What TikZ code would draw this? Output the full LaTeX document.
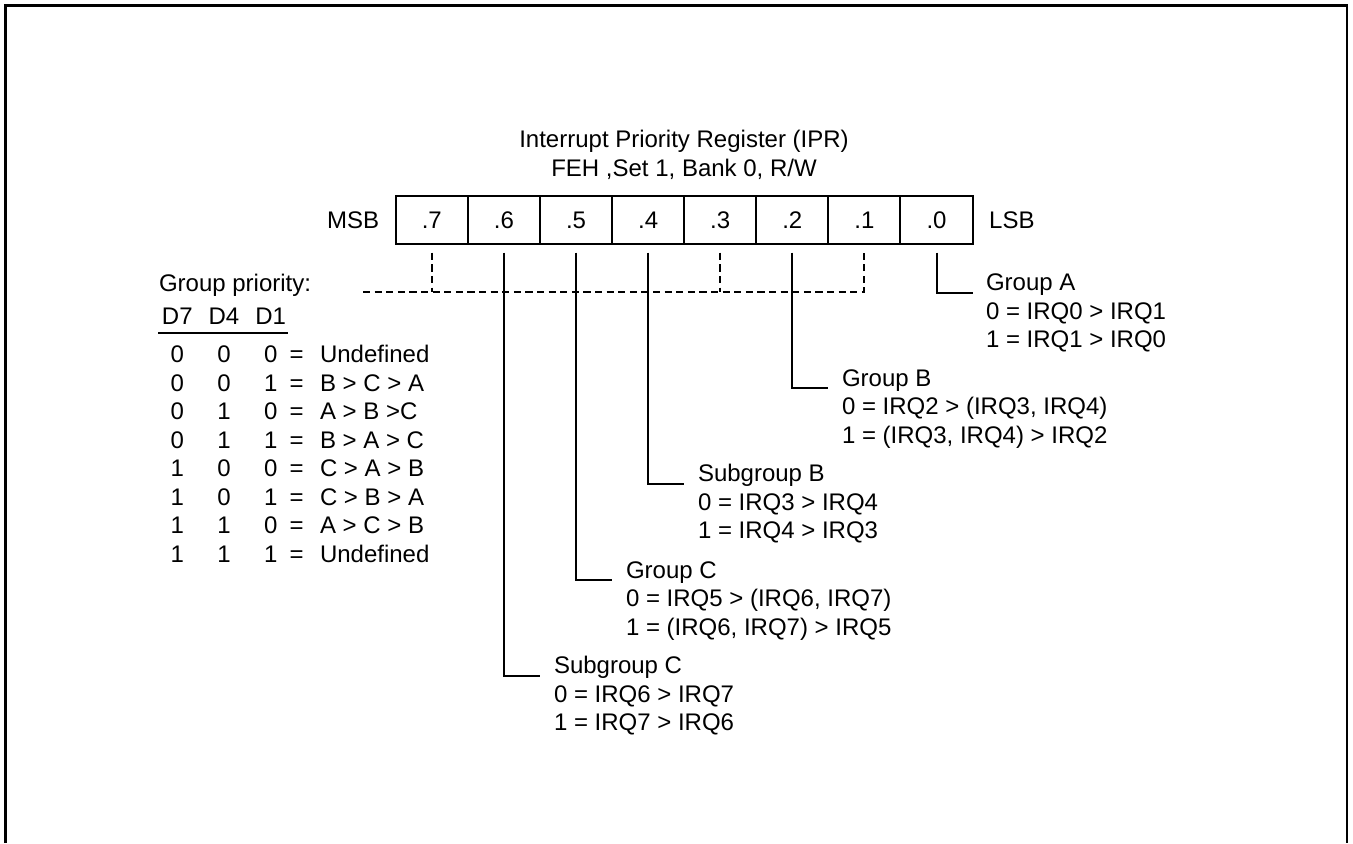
\documentclass[tikz,border=0pt]{standalone}
\usepackage{fontspec}
\setmainfont{Liberation Sans}
\usetikzlibrary{positioning}

\begin{document}
\begin{tikzpicture}[
        x=0.5pt, y=-0.5pt,
        every node/.style={
            inner sep=0pt,
            outer sep=0pt,
            font=\fontsize{12}{14.25}\selectfont
        },
        bitcell/.style={
            draw,
            line width=1pt,
            minimum width=36.05pt,
            minimum height=24pt
        },
        lead/.style={line width=1pt},
        grplead/.style={line width=1pt, dash pattern=on 3.6pt off 2.2pt}
    ]

    \useasboundingbox (0,0) rectangle (1353,843);
    \draw[line width=1.4pt] (5.3,843) -- (5.3,5.3) -- (1347,5.3) -- (1347,843);

    \node (title) [align=center, anchor=base] at (684,176)
    {Interrupt Priority Register (IPR)\\FEH ,Set 1, Bank 0, R/W};

    % register bits
    \node (b7) [bitcell] at (431.8,220) {.7};
    \node (b6) [bitcell, right=0pt of b7] {.6};
    \node (b5) [bitcell, right=0pt of b6] {.5};
    \node (b4) [bitcell, right=0pt of b5] {.4};
    \node (b3) [bitcell, right=0pt of b4] {.3};
    \node (b2) [bitcell, right=0pt of b3] {.2};
    \node (b1) [bitcell, right=0pt of b2] {.1};
    \node (b0) [bitcell, right=0pt of b1] {.0};

    \node (msb) [left=8.3pt of b7] {MSB};
    \node (lsb) [right=8.3pt of b0] {LSB};

    % group priority table
    \node (prio) [anchor=base west] at (159,291) {Group priority:};

    \node (hd7) [anchor=base] at (177.3,324.6) {D7};
    \node (hd4) [anchor=base] at (224,324.6) {D4};
    \node (hd1) [anchor=base] at (270.7,324.6) {D1};
    \draw[line width=1pt] (158.3,333.3) -- (288.3,333.3);

    \node (c7) [align=center, anchor=base] at (177.3,562.1)
    {0\\0\\0\\0\\1\\1\\1\\1};
    \node (c4) [align=center, anchor=base] at (224,562.1)
    {0\\0\\1\\1\\0\\0\\1\\1};
    \node (c1) [align=center, anchor=base] at (270.7,562.1)
    {0\\1\\0\\1\\0\\1\\0\\1};
    \node (ceq) [align=center, anchor=base] at (296.7,562.1)
    {=\\=\\=\\=\\=\\=\\=\\=};
    \node (order) [align=left, anchor=base west] at (320,562.1)
    {Undefined\\B > C > A\\A > B >C\\B > A > C\\C > A > B\\C > B > A\\A > C > B\\Undefined};

    % bit descriptions
    \node (grpA) [align=left, anchor=base west] at (986,347.5)
    {Group A\\0 = IRQ0 > IRQ1\\1 = IRQ1 > IRQ0};

    \node (grpB) [align=left, anchor=base west] at (842,443)
    {Group B\\0 = IRQ2 > (IRQ3, IRQ4)\\1 = (IRQ3, IRQ4) > IRQ2};

    \node (subB) [align=left, anchor=base west] at (698,538.5)
    {Subgroup B\\0 = IRQ3 > IRQ4\\1 = IRQ4 > IRQ3};

    \node (grpC) [align=left, anchor=base west] at (626,635)
    {Group C\\0 = IRQ5 > (IRQ6, IRQ7)\\1 = (IRQ6, IRQ7) > IRQ5};

    \node (subC) [align=left, anchor=base west] at (554,730.5)
    {Subgroup C\\0 = IRQ6 > IRQ7\\1 = IRQ7 > IRQ6};

    % leader corners, just under the first line of each text
    \coordinate (legA) at ([yshift=27.5pt]grpA.base);
    \coordinate (legB) at ([yshift=27.5pt]grpB.base);
    \coordinate (legSB) at ([yshift=27.5pt]subB.base);
    \coordinate (legC) at ([yshift=27.5pt]grpC.base);
    \coordinate (legSC) at ([yshift=27.5pt]subC.base);

    % dashed group lines
    \coordinate (dashL) at (363,291.7);
    \draw[grplead] ([yshift=-4.35pt]b7.south) -- (b7.south |- dashL);
    \draw[grplead] ([yshift=-4.35pt]b3.south) -- (b3.south |- dashL);
    \draw[grplead] (dashL) -| ([yshift=-4.35pt]b1.south);

    % leaders
    \draw[lead] ([yshift=-4.35pt]b0.south) |- (b0.east |- legA);
    \draw[lead] ([yshift=-4.35pt]b2.south) |- (b2.east |- legB);
    \draw[lead] ([yshift=-4.35pt]b4.south) |- (b4.east |- legSB);
    \draw[lead] ([yshift=-4.35pt]b5.south) |- (b5.east |- legC);
    \draw[lead] ([yshift=-4.35pt]b6.south) |- (b6.east |- legSC);

\end{tikzpicture}
\end{document}
